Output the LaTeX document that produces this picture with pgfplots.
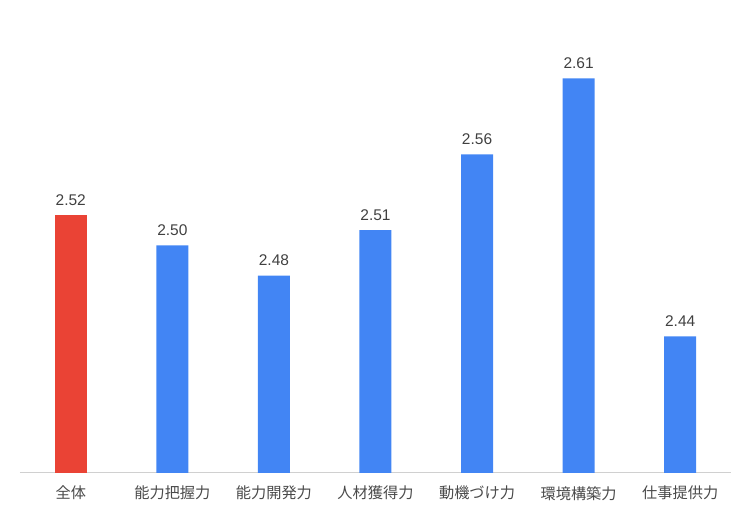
\documentclass[border=0pt]{standalone}
\usepackage{fontspec}
\usepackage{pgfplots}
\pgfplotsset{compat=1.18}
\setmainfont{Liberation Sans}
\newfontfamily\cjk{Noto Sans CJK JP}
\definecolor{gred}{HTML}{EA4335}
\definecolor{gblue}{HTML}{4285F4}
\definecolor{basegray}{HTML}{D0D0D0}
\definecolor{numtxt}{HTML}{404040}
\definecolor{cattxt}{HTML}{4A4A4A}
\begin{document}
\begin{tikzpicture}[x=1pt,y=1pt]
\path[use as bounding box] (0,0) rectangle (750,514);
\begin{axis}[
    at={(20pt,41pt)}, anchor=south west,
    scale only axis,
    width=711pt, height=473pt,
    xmin=-0.5, xmax=6.5,
    ymin=2.35, ymax=2.6617,
    ybar, bar width=32pt, bar shift=0pt,
    axis y line=none,
    axis x line*=bottom,
    x axis line style={basegray, line width=1pt, -},
    xtick={0,1,2,3,4,5,6},
    xticklabels={全体,能力把握力,能力開発力,人材獲得力,動機づけ力,環境構築力,仕事提供力},
    xticklabel style={font=\cjk\fontsize{15.2}{17}\selectfont, text=cattxt, inner sep=0pt, yshift=-13pt},
    major tick length=0pt,
    nodes near coords,
    every node near coord/.append style={font=\fontsize{15.5}{17}\selectfont, text=numtxt, inner sep=0pt, yshift=9.5pt},
    /pgf/number format/.cd, fixed, fixed zerofill, precision=2, assume math mode=true,
]
\addplot[draw=none, fill=gred] coordinates {(0,2.52)};
\addplot[draw=none, fill=gblue] coordinates {
    (1,2.50) (2,2.48) (3,2.51) (4,2.56) (5,2.61) (6,2.44)};
\end{axis}
\end{tikzpicture}
\end{document}
